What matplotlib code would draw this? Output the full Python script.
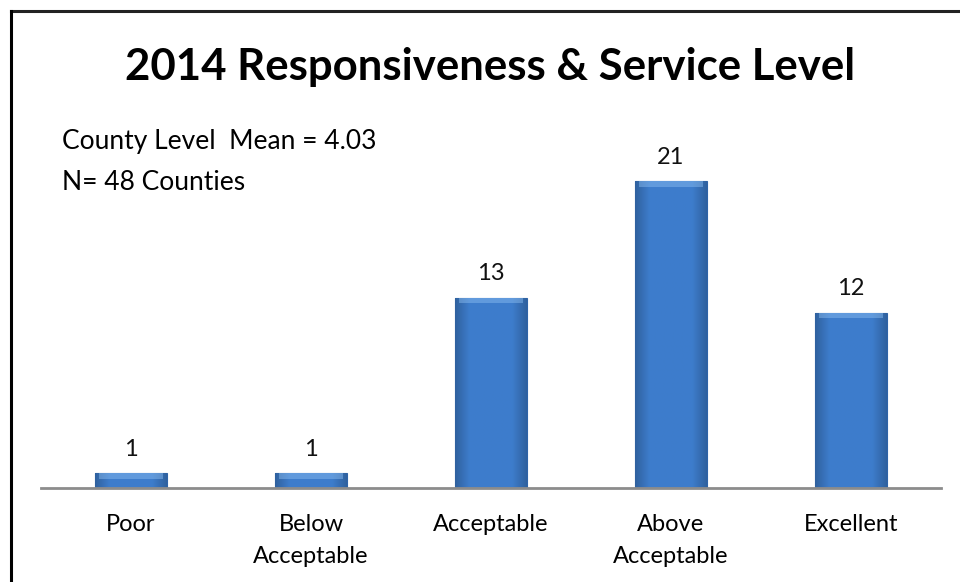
import numpy as np
import matplotlib.pyplot as plt
from matplotlib.lines import Line2D

plt.rcParams['font.family'] = ['Lato', 'DejaVu Sans']

categories = ['Poor', 'Below\nAcceptable', 'Acceptable', 'Above\nAcceptable', 'Excellent']
counts = [1, 1, 13, 21, 12]
title = '2014 Responsiveness & Service Level'
note_lines = ['County Level  Mean = 4.03', 'N= 48 Counties']

fig = plt.figure(figsize=(9.6, 5.82), dpi=100)
W, H = 960, 582
ax = fig.add_axes([41 / W, (H - 488) / H, 900 / W, (488 - 100) / H])

x = np.arange(len(categories))
bars = ax.bar(x, counts, width=0.4, color='#3c7ccb', edgecolor='#2f64a8', linewidth=0.8)

# soft horizontal shading plus a light top bevel on each bar
cols = np.linspace(0, 1, 64)
shade = 1 - 0.22 * np.clip(np.abs(cols - 0.5) * 2 - 0.6, 0, None) / 0.4
base = np.array([0.24, 0.49, 0.80])
grad = (base[None, None, :] * shade[None, :, None]).clip(0, 1)
for b in bars:
    bx, by, bw, bh = b.get_x(), b.get_y(), b.get_width(), b.get_height()
    im = ax.imshow(grad, extent=[bx, bx + bw, by, by + bh], aspect='auto',
                   zorder=2, interpolation='bilinear')
    im.set_clip_path(b)
    top = min(0.35, bh * 0.35)
    ax.bar(b.get_x() + bw / 2, top, width=bw * 0.9, bottom=by + bh - top,
           color='#8fc0f2', alpha=0.45, zorder=3, linewidth=0)
    ax.text(b.get_x() + bw / 2, bh + 0.95, str(int(bh)), ha='center', va='bottom',
            fontsize=17, color='#111111')

ax.set_xlim(-0.5, len(categories) - 0.5)
ax.set_ylim(0, (488 - 100) / 14.6)
ax.set_xticks(x)
ax.set_xticklabels(categories, fontsize=17, linespacing=1.6)
ax.tick_params(axis='x', length=0, pad=19)
ax.set_yticks([])
for s in ['top', 'right', 'left']:
    ax.spines[s].set_visible(False)
ax.spines['bottom'].set_color('#8c8c8c')
ax.spines['bottom'].set_linewidth(2)

fig.text(490 / W, 1 - 67 / H, title, ha='center', va='center',
         fontsize=31.5, fontweight='bold', color='black')
for i, line in enumerate(note_lines):
    fig.text(62 / W, 1 - (142 + 41 * i) / H, line, ha='left', va='center',
             fontsize=19, color='black')

# outer frame: top and left edges only
fig.add_artist(Line2D([11 / W, 1], [1 - 11 / H, 1 - 11 / H], color='#222222', lw=2.2,
                      transform=fig.transFigure))
fig.add_artist(Line2D([11 / W, 11 / W], [0, 1 - 11 / H], color='black', lw=2.2,
                      transform=fig.transFigure))

fig.savefig('out.png', dpi=100)
